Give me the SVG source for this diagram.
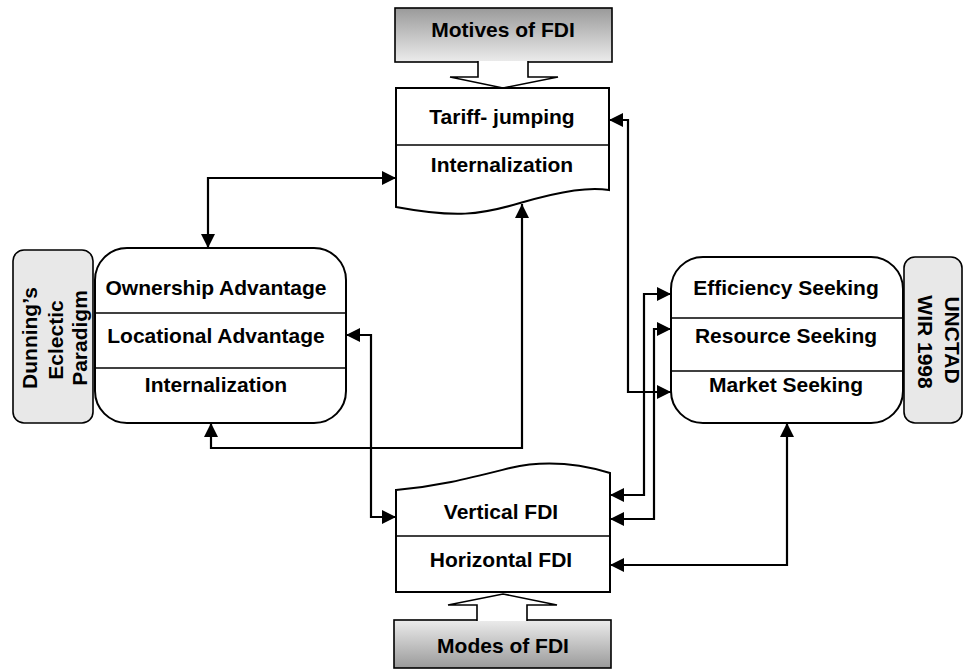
<svg xmlns="http://www.w3.org/2000/svg" width="963" height="671" viewBox="0 0 963 671">
<defs>
<linearGradient id="gDown" x1="0" y1="0" x2="0" y2="1"><stop offset="0" stop-color="#9a9a9a"/><stop offset="1" stop-color="#ececec"/></linearGradient>
<linearGradient id="gUp" x1="0" y1="0" x2="0" y2="1"><stop offset="0" stop-color="#ececec"/><stop offset="1" stop-color="#9a9a9a"/></linearGradient>
<marker id="ah" markerUnits="userSpaceOnUse" markerWidth="15" markerHeight="14" refX="14" refY="7" orient="auto-start-reverse" viewBox="0 0 15 14"><path d="M0,0 L14,7 L0,14 Z" fill="#000"/></marker>
</defs>
<style>
.box{fill:#fff;stroke:#000;stroke-width:2}
.side{fill:#e8e8e8;stroke:#000;stroke-width:1.6}
.div{stroke:#000;stroke-width:1.6}
.t{font-family:"Liberation Sans",Arial,sans-serif;font-weight:bold;font-size:21px;fill:#000;text-anchor:middle}
.con{fill:none;stroke:#000;stroke-width:2.2;marker-start:url(#ah);marker-end:url(#ah)}
.big{fill:#fff;stroke:#000;stroke-width:1.6}
</style>

<g id="motives">
<rect x="395" y="8" width="217" height="54" fill="url(#gDown)" stroke="#000" stroke-width="1.6"/>
<text class="t" x="503" y="37">Motives of FDI</text>
<path class="big" d="M478,61 V77 H450 L503,88 L558,77 H528 V61"/>
</g>

<g id="tariff">
<path class="box" d="M396,88 H609 V190 C590,187 565,190 520,203 C480,215 455,218 396,207 Z"/>
<line class="div" x1="396" y1="145" x2="609" y2="145"/>
<text class="t" x="502" y="124">Tariff- jumping</text>
<text class="t" x="502" y="172">Internalization</text>
</g>

<g id="dunning">
<rect class="side" x="13" y="250" width="80" height="173" rx="11"/>
<text class="t" transform="translate(37,338) rotate(-90)">Dunning’s</text>
<text class="t" transform="translate(63,340) rotate(-90)">Eclectic</text>
<text class="t" transform="translate(87,338) rotate(-90)">Paradigm</text>
</g>

<g id="eclectic">
<rect class="box" x="95" y="248" width="251" height="175" rx="32"/>
<line class="div" x1="95" y1="313" x2="346" y2="313"/>
<line class="div" x1="95" y1="368" x2="346" y2="368"/>
<text class="t" x="216" y="295">Ownership Advantage</text>
<text class="t" x="216" y="343">Locational Advantage</text>
<text class="t" x="216" y="392">Internalization</text>
</g>

<g id="unctad">
<rect class="side" x="904" y="257" width="58" height="166" rx="11"/>
<text class="t" transform="translate(945,340) rotate(90)">UNCTAD</text>
<text class="t" transform="translate(918,342) rotate(90)">WIR 1998</text>
</g>

<g id="seeking">
<rect class="box" x="671" y="257" width="232" height="166" rx="32"/>
<line class="div" x1="671" y1="318" x2="903" y2="318"/>
<line class="div" x1="671" y1="371" x2="903" y2="371"/>
<text class="t" x="786" y="295">Efficiency Seeking</text>
<text class="t" x="786" y="343">Resource Seeking</text>
<text class="t" x="786" y="392">Market Seeking</text>
</g>

<g id="fdi">
<path class="box" d="M396,490 C440,486 470,478 510,468 C545,460 580,464 610,473 V592 H396 Z"/>
<line class="div" x1="396" y1="536" x2="610" y2="536"/>
<text class="t" x="501" y="519">Vertical FDI</text>
<text class="t" x="501" y="567">Horizontal FDI</text>
</g>

<g id="modes">
<rect x="394" y="620" width="217" height="48" fill="url(#gUp)" stroke="#000" stroke-width="1.6"/>
<text class="t" x="503" y="653">Modes of FDI</text>
<path class="big" d="M477,621 V605 H448 L503,594 L557,605 H527 V621"/>
</g>

<g id="connectors">
<path class="con" d="M396,178 H208 V248"/>
<path class="con" d="M211,423 V448 H522 V204"/>
<path class="con" d="M346,335 H371 V517 H396"/>
<path class="con" d="M609,120 H628 V392 H671"/>
<path class="con" d="M671,294 H644 V495 H610"/>
<path class="con" d="M671,329 H654 V519 H610"/>
<path class="con" d="M610,565 H787 V423"/>
</g>
</svg>
